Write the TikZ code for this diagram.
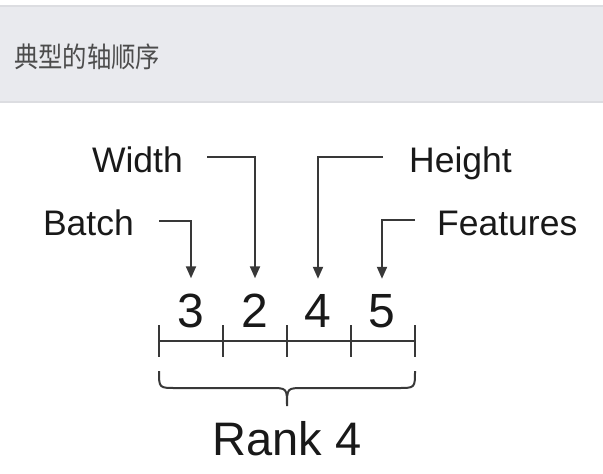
\documentclass[tikz,border=0pt]{standalone}
\usepackage{fontspec}
\setmainfont{Liberation Sans}
\newfontfamily\cjkfont{Noto Sans CJK SC}
\usetikzlibrary{arrows.meta}
\definecolor{kopfgrau}{HTML}{E9EAEE}
\definecolor{kopfrand}{HTML}{DCDDE1}
\definecolor{linie}{HTML}{383838}
\begin{document}
\begin{tikzpicture}[
		x=1pt, y=-1pt,
		every node/.style={inner sep=0pt, text=black!90},
		beschriftung/.style={font=\fontsize{35.5pt}{40pt}\selectfont},
		ziffer/.style={font=\fontsize{48pt}{52pt}\selectfont, anchor=base},
		pfeil/.style={line width=2pt, draw=linie, -{Triangle[width=10pt,length=12pt]}, shorten >=15pt}
		]
		\useasboundingbox (0,0) rectangle (603,474);
		\fill [kopfgrau] (0,6) rectangle (603,102);
		\draw [kopfrand, line width=1.5pt] (0,6) -- (603,6) (0,102) -- (603,102);
		\node [anchor=west, font=\cjkfont\fontsize{28pt}{32pt}\selectfont, text=black!70] (titel) at (14,57) {\scalebox{0.87}[1]{典型的轴顺序}};
		
		% Ziffern und Beschriftungen
		\node [ziffer] (d1) at (191,327) {3};
		\node [ziffer] (d2) at (255,327) {2};
		\node [ziffer] (d3) at (318,327) {4};
		\node [ziffer] (d4) at (382,327) {5};
		\node [beschriftung, anchor=base east] (batch) at (134,235) {Batch};
		\node [beschriftung, anchor=base east] (width) at (183,172) {Width};
		\node [beschriftung, anchor=base west] (height) at (409,172) {Height};
		\node [beschriftung, anchor=base west] (features) at (437,235) {Features};
		
		\draw [pfeil] ([xshift=25pt,yshift=14pt]batch.base east) -| (d1.north);
		\draw [pfeil] ([xshift=24pt,yshift=15.5pt]width.base east) -| (d2.north);
		\draw [pfeil] ([xshift=-26pt,yshift=15pt]height.base west) -| (d3.north);
		\draw [pfeil] ([xshift=-22pt,yshift=15pt]features.base west) -| (d4.north);
		
		% Achse mit Klammer
		\draw [line width=2pt, linie] (159,341) -- (415,341);
		\foreach \x in {159,223,287,351,415}
		\draw [line width=2pt, linie] (\x,325) -- (\x,357);
		\draw [line width=2pt, linie] (159,371) .. controls (159,388) .. (176,388) -- (270,388)
		.. controls (287,388) .. (287,406) .. controls (287,388) .. (304,388) -- (398,388)
		.. controls (415,388) .. (415,371);
		\node [font=\fontsize{47pt}{52pt}\selectfont, anchor=base] (rang) at (287,455) {Rank 4};
		
	\end{tikzpicture}
\end{document}
